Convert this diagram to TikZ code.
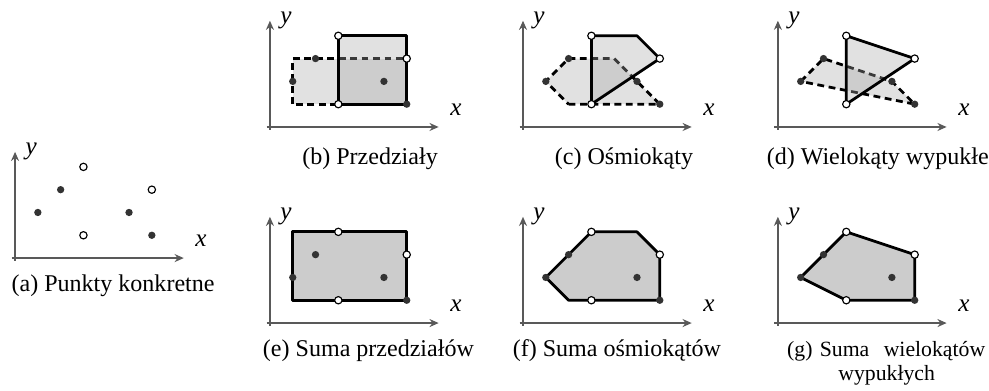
\documentclass[tikz,border=0pt]{standalone}
\usepackage{fontspec}
\setmainfont{Liberation Serif}
\usetikzlibrary{arrows.meta}
\definecolor{szaryOs}{gray}{0.35}
\definecolor{szaryWarstwa}{gray}{0.66}
\definecolor{szarySuma}{gray}{0.8}
\definecolor{ciemnyPunkt}{gray}{0.2}

% uklad osi z etykietami, #1 = nazwa panelu
\newcommand{\ukladOsi}[1]{%
\draw[os] (-0.15,0)--(7.4,0);
\draw[os] (0,-0.12)--(0,4.66);
\node[etykieta] (#1x) at (8.16,0.75) {\textit{x}};
\node[etykieta,anchor=west] (#1y) at (0.44,4.69) {\textit{y}};
}
% punkty konkretne: pelne i puste
\newcommand{\punktyKonkretne}{%
\foreach \p in {(1,2),(2,3),(5,2),(6,1)} \fill[pelny] \p circle (1.6pt);
\foreach \p in {(3,4),(3,1),(6,3)} \filldraw[pusty] \p circle (1.6pt);
}

\begin{document}
\begin{tikzpicture}[x=0.35cm,y=0.35cm,
  os/.style={szaryOs,line width=0.6pt,-{Stealth[length=4pt,width=3.5pt]}},
  etykieta/.style={inner sep=0pt,font=\fontsize{11}{11}\selectfont},
  podpis/.style={inner sep=0pt,anchor=base,font=\fontsize{10.5}{10.5}\selectfont},
  podpisMaly/.style={inner sep=0pt,anchor=base west,font=\fontsize{9.5}{9.5}\selectfont},
  warstwa/.style={fill=szaryWarstwa,fill opacity=0.35,draw=black,draw opacity=1,line width=1.2pt,line join=round},
  kreski/.style={dash pattern=on 3pt off 2pt},
  sumaStyl/.style={fill=szarySuma,draw=black,line width=1.2pt,line join=round},
  pelny/.style={ciemnyPunkt},
  pusty/.style={fill=white,draw=black,line width=0.5pt}]
\useasboundingbox (0,0) rectangle (43.38,17.15);

% (a) punkty
\begin{scope}[shift={(0.66,5.83)}]
\ukladOsi{a}
\punktyKonkretne
\node[podpis] (podpisA) at (4.3,-1.48) {(a) Punkty konkretne};
\end{scope}

% (b) przedzialy
\begin{scope}[shift={(11.84,11.58)}]
\ukladOsi{b}
\filldraw[warstwa,kreski] (1,1) rectangle (6,3);
\filldraw[warstwa] (3,1) rectangle (6,4);
\punktyKonkretne
\node[podpis] (podpisB) at (4.39,-1.65) {(b) Przedziały};
\end{scope}

% (c) osmiokaty
\begin{scope}[shift={(22.94,11.58)}]
\ukladOsi{c}
\filldraw[warstwa,kreski] (2,1)--(6,1)--(5,2)--(4,3)--(2,3)--(1,2)--cycle;
\filldraw[warstwa] (3,1)--(3,4)--(5,4)--(6,3)--cycle;
\punktyKonkretne
\node[podpis] (podpisC) at (4.43,-1.65) {(c) Ośmiokąty};
\end{scope}

% (d) wielokaty wypukle
\begin{scope}[shift={(34.12,11.58)}]
\ukladOsi{d}
\filldraw[warstwa,kreski] (1,2)--(2,3)--(5,2)--(6,1)--cycle;
\filldraw[warstwa] (3,1)--(3,4)--(6,3)--cycle;
\punktyKonkretne
\node[podpis] (podpisD) at (4.38,-1.65) {(d) Wielokąty wypukłe};
\end{scope}

% (e) suma przedzialow
\begin{scope}[shift={(11.84,2.98)}]
\ukladOsi{e}
\filldraw[sumaStyl] (1,1) rectangle (6,4);
\punktyKonkretne
\node[podpis] (podpisE) at (4.32,-1.48) {(e) Suma przedziałów};
\end{scope}

% (f) suma osmiokatow
\begin{scope}[shift={(22.94,2.98)}]
\ukladOsi{f}
\filldraw[sumaStyl] (1,2)--(3,4)--(5,4)--(6,3)--(6,1)--(2,1)--cycle;
\punktyKonkretne
\node[podpis] (podpisF) at (4.12,-1.48) {(f) Suma ośmiokątów};
\end{scope}

% (g) suma wielokatow wypuklych
\begin{scope}[shift={(34.12,2.98)}]
\ukladOsi{g}
\filldraw[sumaStyl] (1,2)--(3,4)--(6,3)--(6,1)--(3,1)--cycle;
\punktyKonkretne
\node[podpisMaly,text width=3.04cm,align=left] (podpisG) at (0.39,-1.48) {(g) Suma\hfill wielokątów};
\node[podpisMaly] (podpisG2) at (2.63,-2.53) {wypukłych};
\end{scope}
\end{tikzpicture}
\end{document}
